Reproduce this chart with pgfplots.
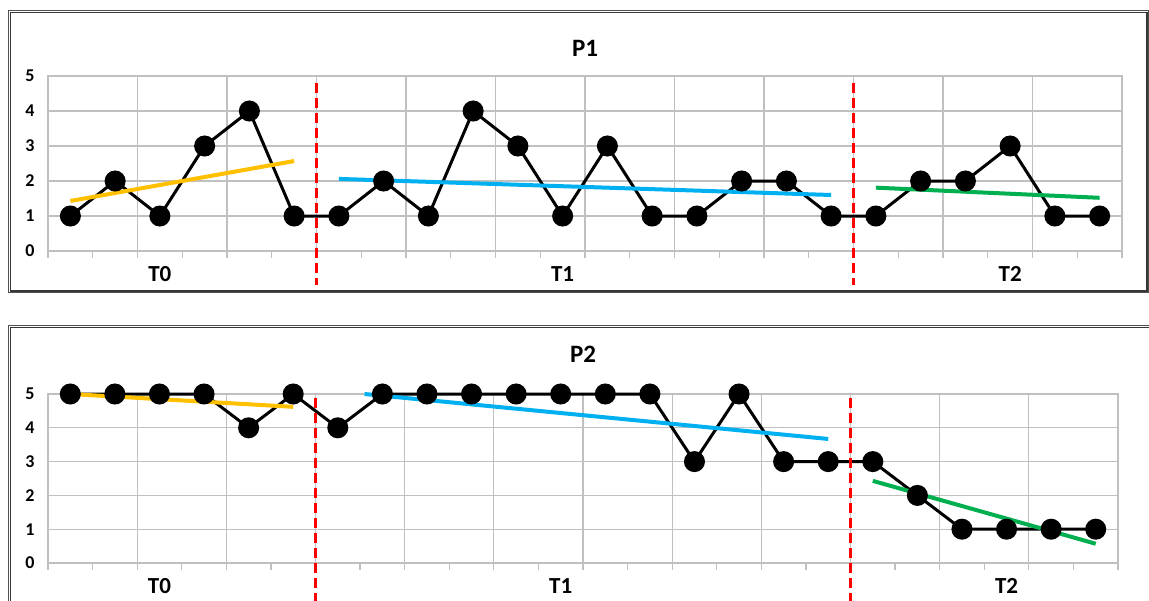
\documentclass[border=0pt]{standalone}
\usepackage{fontspec}
\setmainfont{Carlito}
\usepackage{pgfplots}
\pgfplotsset{compat=1.18}
\definecolor{gridgray}{HTML}{C0C0C0}
\definecolor{tOrange}{HTML}{FFC000}
\definecolor{tBlue}{HTML}{00B0F0}
\definecolor{tGreen}{HTML}{00B050}
\definecolor{framec}{HTML}{505050}
\definecolor{sepred}{HTML}{FF0000}
\pgfplotsset{panel/.style={
  scale only axis, clip=false,
  xmin=-0.5, xmax=23.5, ymin=0, ymax=5,
  xtick={-0.5,1.5,...,23.5}, minor xtick={0.5,2.5,...,22.5},
  xticklabels={}, xmajorgrids, ymajorgrids, ytick={0,1,2,3,4,5},
  grid style={gridgray, line width=0.6pt},
  axis line style={gridgray, line width=0.6pt},
  xtick style={gridgray, line width=0.6pt},
  minor x tick style={gridgray, line width=0.6pt},
  ytick style={draw=none},
  tick align=outside, xtick pos=left, ytick pos=left,
  major tick length=3.5pt, minor tick length=3.5pt,
  /pgf/number format/assume math mode=true,
  yticklabel style={font=\bfseries\fontsize{9}{10}\selectfont, anchor=east, inner sep=0pt, xshift=-3pt},
  title style={font=\bfseries\fontsize{12.5}{14}\selectfont, at={(0.5,1)}, anchor=center},
  dataline/.style={black, line width=1.5pt, mark=*, mark size=4.5pt, mark options={fill=black, draw=black, solid}},
  trend/.style={line width=2pt},
  sep/.style={sepred, line width=1.5pt, dash pattern=on 5pt off 2.5pt},
}}
\newcommand{\tlab}[2]{\node[font=\bfseries\fontsize{11.5}{13}\selectfont] at (axis cs:#1,0) [yshift=-11.5pt] {#2};}
\begin{document}
\begin{tikzpicture}
\path[use as bounding box, clip] (0pt,0pt) rectangle (574.5pt,-300pt);
\fill[white] (0pt,0pt) rectangle (574.5pt,-300pt);
% frames
\draw[framec, line width=0.6pt] (4.15pt,-5.35pt) rectangle (574.5pt,-146.35pt);
\draw[framec!70!black, line width=0.6pt] (5.15pt,-6.25pt) rectangle (573.5pt,-145.5pt);
\draw[framec, line width=0.6pt] (4.15pt,-162.85pt) rectangle (580pt,-310pt);
\draw[framec!70!black, line width=0.6pt] (5.15pt,-163.65pt) rectangle (579pt,-309pt);

% ---------- P1 ----------
\begin{axis}[panel, at={(24pt,-125.5pt)}, anchor=south west,
  width=537pt, height=87.5pt, title={P1}, title style={yshift=8pt}]
\addplot[dataline] coordinates {(0,1)(1,2)(2,1)(3,3)(4,4)(5,1)(6,1)(7,2)(8,1)(9,4)(10,3)(11,1)(12,3)(13,1)(14,1)(15,2)(16,2)(17,1)(18,1)(19,2)(20,2)(21,3)(22,1)(23,1)};
\addplot[trend, tOrange] coordinates {(0,1.43)(5,2.57)};
\addplot[trend, tBlue] coordinates {(6,2.06)(17,1.60)};
\addplot[trend, tGreen] coordinates {(18,1.81)(23,1.52)};
\addplot[sep] coordinates {(5.5,4.8)(5.5,-0.97)};
\addplot[sep] coordinates {(17.5,4.8)(17.5,-0.97)};
\tlab{2}{T0}
\tlab{11}{T1}
\tlab{21}{T2}
\end{axis}

% ---------- P2 ----------
\begin{axis}[panel, at={(24pt,-281.5pt)}, anchor=south west,
  width=535pt, height=84.5pt, title={P2}, title style={yshift=14pt}]
\addplot[dataline] coordinates {(0,5)(1,5)(2,5)(3,5)(4,4)(5,5)(6,4)(7,5)(8,5)(9,5)(10,5)(11,5)(12,5)(13,5)(14,3)(15,5)(16,3)(17,3)(18,3)(19,2)(20,1)(21,1)(22,1)(23,1)};
\addplot[trend, tOrange] coordinates {(0,5)(5,4.62)};
\addplot[trend, tBlue] coordinates {(6.6,5)(17,3.67)};
\addplot[trend, tGreen] coordinates {(18,2.43)(23,0.57)};
\addplot[sep] coordinates {(5.5,4.88)(5.5,-1.3)};
\addplot[sep] coordinates {(17.5,4.88)(17.5,-1.3)};
\tlab{2}{T0}
\tlab{11}{T1}
\tlab{21}{T2}
\end{axis}
\end{tikzpicture}
\end{document}
